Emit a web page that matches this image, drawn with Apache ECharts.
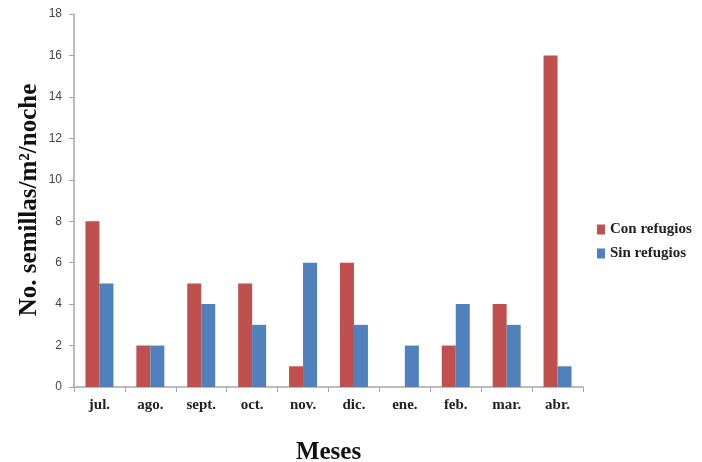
<!DOCTYPE html>
<html>
<head>
<meta charset="utf-8">
<script src="https://cdn.jsdelivr.net/npm/echarts@6/dist/echarts.min.js"></script>
<style>html,body{margin:0;padding:0;background:#fff}#c{width:702px;height:462px}</style>
</head>
<body>
<div id="c"></div>
<script>
const categories = ['jul.', 'ago.', 'sept.', 'oct.', 'nov.', 'dic.', 'ene.', 'feb.', 'mar.', 'abr.'];
const conRefugios = [8, 2, 5, 5, 1, 6, 0, 2, 4, 16];
const sinRefugios = [5, 2, 4, 3, 6, 3, 2, 4, 3, 1];
const seriesNames = ['Con refugios', 'Sin refugios'];
const yTitle = 'No. semillas/m²/noche';
const xTitle = 'Meses';

const serif = '"Liberation Serif", "DejaVu Serif", serif';
const chart = echarts.init(document.getElementById('c'));
chart.setOption({
  animation: false,
  backgroundColor: '#fff',
  grid: { left: 74, right: 119, top: 14, bottom: 75, containLabel: false, outerBoundsMode: 'none' },
  legend: {
    orient: 'vertical', left: 592, top: 217,
    itemWidth: 8, itemHeight: 10, itemGap: 9,
    icon: 'rect',
    textStyle: { fontFamily: serif, fontWeight: 'bold', fontSize: 15, color: '#222' },
    data: seriesNames
  },
  graphic: [{
    type: 'text', x: 30, y: 200, rotation: Math.PI / 2,
    style: { text: yTitle, fontFamily: serif, fontWeight: 'bold', fontSize: 25, fill: '#111',
             textAlign: 'center', textVerticalAlign: 'middle' }
  }],
  xAxis: {
    type: 'category', data: categories,
    name: xTitle, nameLocation: 'middle', nameGap: 53,
    nameTextStyle: { fontFamily: serif, fontWeight: 'bold', fontSize: 25, color: '#111' },
    axisLine: { lineStyle: { color: '#a6a6a6', width: 1.5 } },
    axisTick: { show: true, length: 5, alignWithLabel: false, lineStyle: { color: '#a6a6a6' } },
    axisLabel: { fontFamily: serif, fontWeight: 'bold', fontSize: 15, color: '#222', margin: 11 }
  },
  yAxis: {
    type: 'value', min: 0, max: 18, interval: 2,
    axisLine: { show: true, lineStyle: { color: '#a6a6a6', width: 1.5 } },
    axisTick: { show: true, length: 5, lineStyle: { color: '#a6a6a6' } },
    splitLine: { show: false },
    axisLabel: { fontFamily: '"Liberation Sans", Arial, sans-serif', fontSize: 12, color: '#444', margin: 12 }
  },
  series: [
    { name: seriesNames[0], type: 'bar', data: conRefugios, barGap: '0%', barCategoryGap: '45%',
      itemStyle: { color: '#C0504D' } },
    { name: seriesNames[1], type: 'bar', data: sinRefugios, barGap: '0%', barCategoryGap: '45%',
      itemStyle: { color: '#4F81BD' } }
  ]
});
</script>
</body>
</html>
